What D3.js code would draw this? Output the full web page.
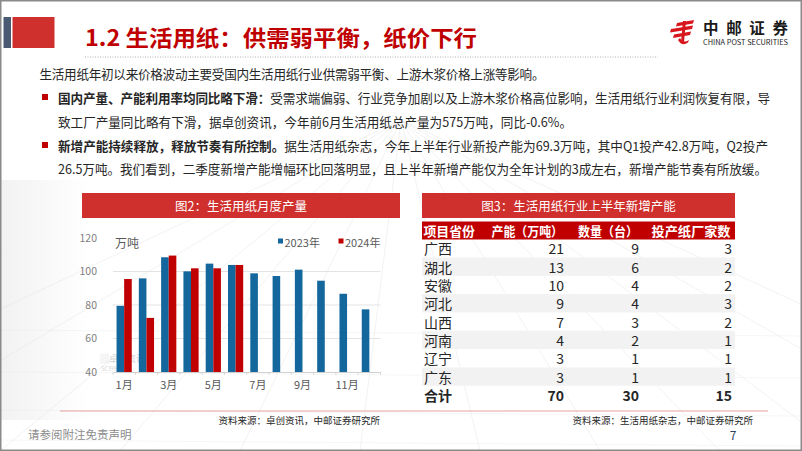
<!DOCTYPE html>
<html><head><meta charset="utf-8">
<script src="https://cdn.jsdelivr.net/npm/d3@7"></script>
<style>
html,body{margin:0;padding:0;background:#fff;}
svg{display:block;}
text{font-family:"Noto Sans CJK SC","Noto Sans",sans-serif;}
</style></head>
<body><svg id="slide" width="802" height="451"></svg>
<script>
// ---------- data ----------
const months = ["1月","2月","3月","4月","5月","6月","7月","8月","9月","10月","11月","12月"];
const prod2023 = [79.5, 95.9, 108.5, 100.1, 104.7, 103.9, 98.9, 97.3, 101.1, 94.5, 86.7, 77.4];
const prod2024 = [95.5, 72.3, 109.5, 101.9, 101.9, 103.9];
const seriesNames = ["2023年", "2024年"];
const yTicks = [40, 60, 80, 100, 120];
const xTickLabels = ["1月","3月","5月","7月","9月","11月"];

const tableHeaders = ["项目省份", "产能（万吨）", "数量（台）", "投产纸厂家数"];
const provinces = ["广西","湖北","安徽","河北","山西","河南","辽宁","广东","合计"];
const capacity = [21, 13, 10, 9, 7, 4, 3, 3, 70];
const machines = [9, 6, 4, 4, 3, 2, 1, 1, 30];
const mills = [3, 2, 2, 3, 2, 1, 1, 1, 15];

// ---------- setup ----------
const svg = d3.select("#slide");
const C_BLUE = "#13679c", C_RED = "#c00000", C_BAR = "#d0302d";

// background decoration
const defs = svg.append("defs");
const lg = defs.append("linearGradient").attr("id","lgrad").attr("x1","0").attr("x2","1");
lg.append("stop").attr("offset","0").attr("stop-color","#ececec");
lg.append("stop").attr("offset","1").attr("stop-color","#ffffff");
svg.append("rect").attr("x",0).attr("y",180).attr("width",90).attr("height",240).attr("fill","url(#lgrad)").attr("opacity",0.7);
const bg = svg.append("g").attr("stroke","#e3e3e3").attr("stroke-width",0.8).attr("fill","none");
[-300,-150,0,120,240,360,480,600,720,840,980,1120].forEach(x0=>{
  bg.append("line").attr("x1",401).attr("y1",120).attr("x2",x0).attr("y2",451).attr("opacity",0.6);
});
[330,372,410,440].forEach(yy=>bg.append("line").attr("x1",0).attr("x2",802).attr("y1",yy).attr("y2",yy+6).attr("opacity",0.4));

// ---------- header ----------
svg.append("rect").attr("x",3.5).attr("y",17).attr("width",7.5).attr("height",31).attr("fill","#4a5a72");
svg.append("rect").attr("x",12.5).attr("y",17).attr("width",42).attr("height",31).attr("fill","#d0302d");
svg.append("text").attr("x",85).attr("y",36).attr("dominant-baseline","central")
  .attr("font-size",22).attr("font-weight",700).attr("fill",C_RED)
  .attr("textLength",392).attr("lengthAdjust","spacingAndGlyphs")
  .text("1.2 生活用纸：供需弱平衡，纸价下行");
svg.append("line").attr("x1",85).attr("x2",658).attr("y1",57).attr("y2",57)
  .attr("stroke","#b0b0b0").attr("stroke-width",1).attr("stroke-dasharray","1,1.5");

// logo
const logo = svg.append("g").attr("fill","#d7161e");
logo.append("path").attr("d","M677 23 L694 20 L693 23.5 L676 26.5 Z");
logo.append("path").attr("d","M671 29 L693 25.5 L692 29 L670 32.5 Z");
logo.append("path").attr("d","M674 34.5 L691 31.5 L690 35 L673 38 Z");
logo.append("path").attr("d","M683 21 L686 21 L684 42 L681 42 Z");
logo.append("path").attr("d","M680 38 Q683 44 689 40 L688 42.5 Q682 47 678 40 Z");
svg.append("text").attr("x",703).attr("y",27).attr("dominant-baseline","central")
  .attr("font-size",15.5).attr("font-weight",700).attr("fill","#1a1a1a")
  .attr("textLength",85).attr("lengthAdjust","spacing").text("中邮证券");
svg.append("text").attr("x",703).attr("y",42).attr("dominant-baseline","central")
  .attr("font-family","'Liberation Sans',Arial,sans-serif")
  .attr("font-size",7.2).attr("fill","#1a1a1a")
  .attr("textLength",85).attr("lengthAdjust","spacingAndGlyphs").text("CHINA POST SECURITIES");

// ---------- body text ----------
const TXT = "#262626";
function line(x, y, len, parts){
  const t = svg.append("text").attr("x",x).attr("y",y).attr("dominant-baseline","central")
    .attr("font-size",12.6).attr("fill",TXT).attr("textLength",len).attr("lengthAdjust","spacing");
  parts.forEach(p=>t.append("tspan").attr("font-weight",p[1]?700:400).text(p[0]));
}
line(39.5, 73, 505, [["生活用纸年初以来价格波动主要受国内生活用纸行业供需弱平衡、上游木浆价格上涨等影响。",0]]);
line(58, 97, 712, [["国内产量、产能利用率均同比略下滑：",1],["受需求端偏弱、行业竞争加剧以及上游木浆价格高位影响，生活用纸行业利润恢复有限，导",0]]);
line(58, 121, 514, [["致工厂产量同比略有下滑，据卓创资讯，今年前6月生活用纸总产量为575万吨，同比-0.6%。",0]]);
line(58, 145, 710, [["新增产能持续释放，释放节奏有所控制。",1],["据生活用纸杂志，今年上半年行业新投产能为69.3万吨，其中Q1投产42.8万吨，Q2投产",0]]);
line(58, 168, 709, [["26.5万吨。我们看到，二季度新增产能增幅环比回落明显，且上半年新增产能仅为全年计划的3成左右，新增产能节奏有所放缓。",0]]);
[97,145].forEach(y=>svg.append("rect").attr("x",42).attr("y",y-3).attr("width",6).attr("height",6).attr("fill",C_RED));

// ---------- chart (图2) ----------
svg.append("rect").attr("x",82).attr("y",193).attr("width",318).attr("height",25).attr("fill",C_BAR);
svg.append("text").attr("x",241).attr("y",205.5).attr("text-anchor","middle").attr("dominant-baseline","central")
  .attr("font-size",12.5).attr("fill","#fff").text("图2：生活用纸月度产量");

const x = d3.scaleBand().domain(months).range([113, 380.5]).padding(0);
const y = d3.scaleLinear().domain([40,120]).range([372, 238]);
const bw = 7.6;
const chart = svg.append("g");

// gridlines
chart.append("g").selectAll("line").data(yTicks.filter(v=>v>40 && v<120)).join("line")
  .attr("x1",113).attr("x2",380.5).attr("y1",d=>y(d)).attr("y2",d=>y(d))
  .attr("stroke","#dcdcdc").attr("stroke-width",0.8);

// watermark (faint)
chart.append("text").attr("x",100).attr("y",362).attr("font-size",9).attr("fill","#d4d4d4").text("▒卓创资讯");
chart.append("text").attr("x",101).attr("y",371).attr("font-size",6).attr("fill","#d6d6d6")
  .attr("font-family","'Liberation Serif',serif").text("SCI99.COM");

// y axis (labels only)
const yAxis = d3.axisLeft(y).tickValues(yTicks).tickSize(0).tickPadding(0);
const gy = chart.append("g").attr("transform","translate(97,0)").call(yAxis);
gy.select(".domain").remove();
gy.selectAll("text").attr("font-family","'Liberation Sans',Arial,sans-serif").attr("font-size",10.5).attr("fill","#7f7f7f");

// bars
chart.append("g").selectAll("rect").data(prod2023).join("rect")
  .attr("x",(d,i)=>x(months[i]) + x.bandwidth()/2 - bw)
  .attr("y",d=>y(d)).attr("width",bw).attr("height",d=>y(40)-y(d)).attr("fill",C_BLUE);
chart.append("g").selectAll("rect").data(prod2024).join("rect")
  .attr("x",(d,i)=>x(months[i]) + x.bandwidth()/2)
  .attr("y",d=>y(d)).attr("width",bw).attr("height",d=>y(40)-y(d)).attr("fill",C_RED);

// x axis
const xAxis = d3.axisBottom(x).tickValues(xTickLabels).tickSize(0).tickPadding(9);
const gx = chart.append("g").attr("transform",`translate(0,${y(40)})`).call(xAxis);
gx.select(".domain").attr("stroke","#d0d0d0");
gx.selectAll("text").attr("font-size",11).attr("fill","#595959");
chart.append("g").selectAll("line").data(months.concat(["end"])).join("line")
  .attr("x1",(d,i)=>113 + i*x.bandwidth()).attr("x2",(d,i)=>113 + i*x.bandwidth())
  .attr("y1",y(40)).attr("y2",y(40)+3).attr("stroke","#d0d0d0").attr("stroke-width",0.8);

// unit + legend
chart.append("text").attr("x",115).attr("y",242).attr("dominant-baseline","central")
  .attr("font-size",12).attr("fill","#595959").text("万吨");
const leg = chart.append("g");
[[278,C_BLUE],[338.5,C_RED]].forEach((p,i)=>{
  leg.append("rect").attr("x",p[0]).attr("y",238.5).attr("width",5).attr("height",5).attr("fill",p[1]);
  leg.append("text").attr("x",p[0]+6.5).attr("y",241.5).attr("dominant-baseline","central")
    .attr("font-size",11).attr("fill","#595959").text(seriesNames[i]);
});

// ---------- table (图3) ----------
svg.append("rect").attr("x",422).attr("y",193).attr("width",313).attr("height",25).attr("fill",C_BAR);
svg.append("text").attr("x",578.5).attr("y",205.5).attr("text-anchor","middle").attr("dominant-baseline","central")
  .attr("font-size",12.5).attr("fill","#fff").text("图3：生活用纸行业上半年新增产能");

const rowY = d3.scaleLinear().domain([0,1]).range([248.3, 266.63]);
const tbl = svg.append("g");
tbl.append("rect").attr("x",422).attr("y",221.5).attr("width",313).attr("height",18).attr("fill",C_RED);
const colX = [424, 563, 638, 731];
const headStart = [423.5, 491.5, 578, 651.5];
tableHeaders.forEach((h,i)=>{
  tbl.append("text").attr("x",headStart[i]).attr("y",230.5).attr("dominant-baseline","central")
    .attr("font-size",13).attr("font-weight",700)
    .attr("textLength",[51.5,71.5,60,79][i]).attr("lengthAdjust","spacingAndGlyphs")
    .attr("fill","#fff").text(h);
});
tbl.append("g").selectAll("rect").data(provinces).join("rect")
  .attr("x",422).attr("width",313).attr("y",(d,i)=>rowY(i)-9.17).attr("height",18.33)
  .attr("fill",(d,i)=>i%2===1?"#f2f2f2":"none");
const cols = [provinces, capacity, machines, mills];
cols.forEach((col,ci)=>{
  tbl.append("g").selectAll("text").data(col).join("text")
    .attr("x",colX[ci]+(ci===0?0:1)).attr("y",(d,i)=>rowY(i))
    .attr("dominant-baseline","central").attr("text-anchor",ci===0?"start":"end")
    .attr("font-size",14).attr("font-weight",(d,i)=>i===col.length-1?700:400)
    .attr("fill","#262626").text(d=>d);
});

// ---------- sources & footer ----------
svg.append("line").attr("x1",60).attr("x2",768).attr("y1",411).attr("y2",411).attr("stroke","#e8a2a2").attr("stroke-width",1);
svg.append("text").attr("x",380).attr("y",419.5).attr("text-anchor","end").attr("dominant-baseline","central")
  .attr("font-size",9.5).attr("fill","#262626").text("资料来源：卓创资讯，中邮证券研究所");
svg.append("text").attr("x",753).attr("y",419.5).attr("text-anchor","end").attr("dominant-baseline","central")
  .attr("font-size",9.5).attr("fill","#262626").text("资料来源：生活用纸杂志，中邮证券研究所");
svg.append("text").attr("x",28).attr("y",433.5).attr("dominant-baseline","central")
  .attr("font-size",11.5).attr("fill","#8c8c8c").text("请参阅附注免责声明");
svg.append("text").attr("x",733).attr("y",434).attr("text-anchor","middle").attr("dominant-baseline","central")
  .attr("font-size",12).attr("fill","#2f3f5f").text("7");

// frame
svg.append("rect").attr("x",0.75).attr("y",0.75).attr("width",800.5).attr("height",449.5)
  .attr("fill","none").attr("stroke","#8a8a8a").attr("stroke-width",1.5);
</script></body></html>
